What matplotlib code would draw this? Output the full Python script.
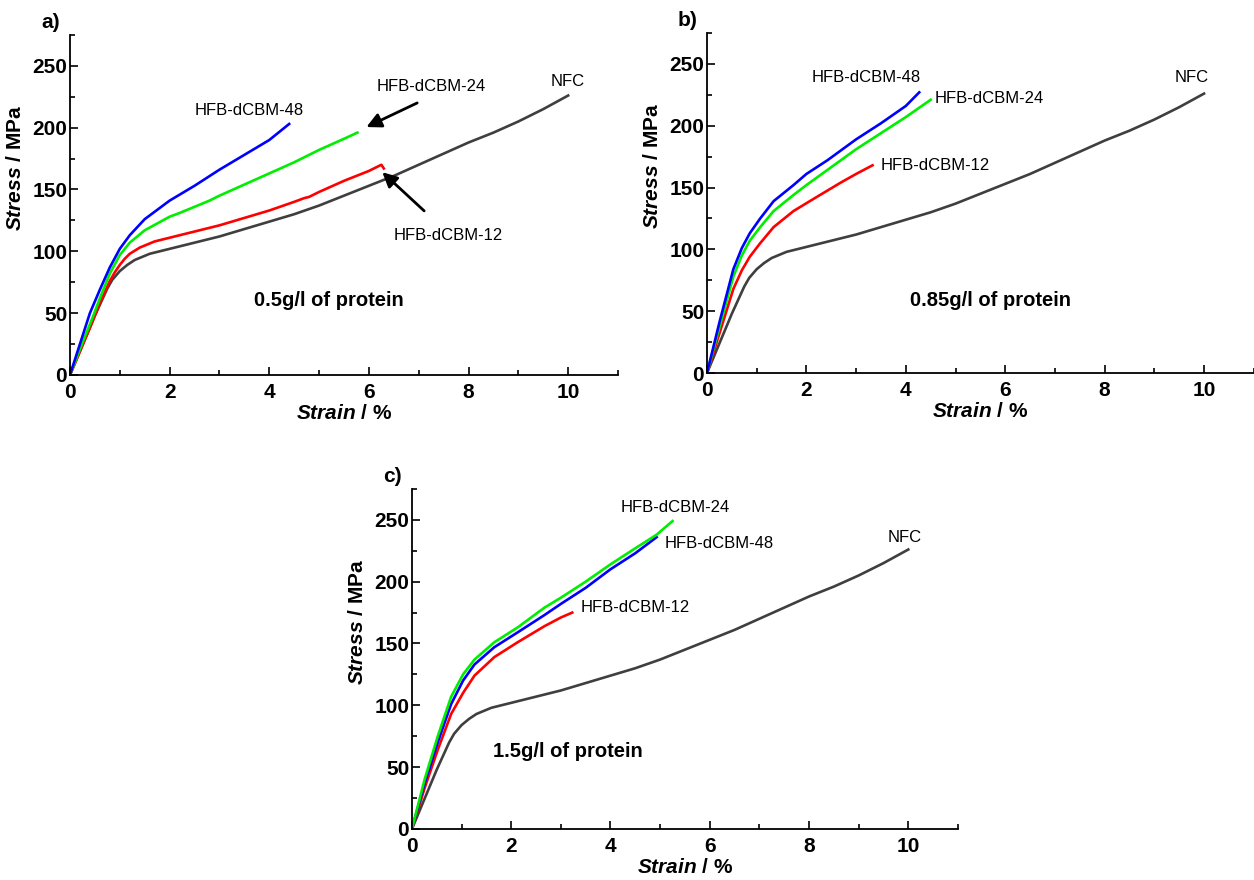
"""
Curvas tensão-deformação de filmes de NFC com HFB-dCBM
em três concentrações de proteína (painéis a, b, c).
"""
import matplotlib
matplotlib.use("Agg")
import matplotlib.pyplot as plt
from matplotlib.ticker import MultipleLocator

plt.rcParams['font.family'] = ['Liberation Sans', 'DejaVu Sans']
plt.rcParams['mathtext.fontset'] = 'custom'
plt.rcParams['mathtext.it'] = 'Liberation Sans:italic:bold'
plt.rcParams['mathtext.rm'] = 'Liberation Sans:bold'

# Curva de referência NFC (igual nos três painéis)
nfc_strain = [0, 0.25, 0.5, 0.75, 0.85, 1.0, 1.15, 1.3, 1.6, 2.0, 2.5, 3.0, 3.5, 4.0, 4.5,
              5.0, 5.5, 6.0, 6.5, 7.0, 7.5, 8.0, 8.5, 9.0, 9.5, 10.0]
nfc_stress = [0, 24, 48, 70, 77, 84, 89, 93, 98, 102, 107, 112, 118, 124, 130,
              137, 145, 153, 161, 170, 179, 188, 196, 205, 215, 226]

# a) 0.5 g/l
a48_strain = [0, 0.2, 0.4, 0.6, 0.8, 1.0, 1.2, 1.5, 1.8, 2.0, 2.5, 3.0, 3.5, 4.0, 4.4]
a48_stress = [0, 25, 50, 69, 87, 102, 113, 126, 135, 141, 153, 166, 178, 190, 203]
a24_strain = [0, 0.2, 0.45, 0.6, 0.8, 1.0, 1.2, 1.5, 2.0, 2.2, 2.5, 2.8, 3.0, 3.5, 4.0, 4.5, 5.0, 5.5, 5.77]
a24_stress = [0, 21, 46, 62, 82, 97, 107, 117, 128, 131, 136, 141, 145, 154, 163, 172, 182, 191, 196]
a12_strain = [0, 0.2, 0.4, 0.6, 0.8, 0.9, 1.0, 1.1, 1.2, 1.4, 1.7, 2.0, 2.3, 2.6, 3.0, 3.5, 4.0,
              4.5, 4.7, 4.8, 5.0, 5.5, 6.0, 6.25, 6.3]
a12_stress = [0, 19, 38, 58, 76, 83, 89, 94, 98, 103, 108, 111, 114, 117, 121, 127, 133,
              140, 143, 144, 148, 157, 165, 170, 167]

# b) 0.85 g/l
b48_strain = [0, 0.25, 0.53, 0.7, 0.86, 1.07, 1.34, 1.74, 2.0, 2.42, 3.0, 3.5, 4.0, 4.27]
b48_stress = [0, 41, 84, 101, 113, 125, 139, 152, 161, 172, 189, 202, 216, 227]
b24_strain = [0, 0.25, 0.53, 0.7, 0.86, 1.07, 1.34, 1.74, 2.0, 2.69, 3.0, 3.5, 4.0, 4.5]
b24_stress = [0, 37, 78, 95, 107, 118, 131, 144, 152, 172, 181, 194, 207, 221]
b12_strain = [0, 0.25, 0.53, 0.7, 0.86, 1.07, 1.34, 1.74, 2.15, 2.69, 3.0, 3.33]
b12_stress = [0, 32, 68, 83, 94, 105, 118, 131, 141, 154, 161, 168]

# c) 1.5 g/l
c24_strain = [0, 0.255, 0.52, 0.79, 1.03, 1.26, 1.66, 2.13, 2.67, 3.0, 3.5, 4.0, 4.5, 4.93, 5.25]
c24_stress = [0, 40, 75, 107, 125, 137, 151, 163, 179, 187, 200, 214, 227, 238, 249]
c48_strain = [0, 0.255, 0.52, 0.79, 1.03, 1.26, 1.66, 2.13, 2.67, 3.0, 3.5, 4.0, 4.5, 4.93]
c48_stress = [0, 37, 70, 101, 120, 133, 147, 159, 173, 182, 195, 210, 223, 236]
c12_strain = [0, 0.255, 0.52, 0.79, 1.03, 1.26, 1.66, 2.13, 2.67, 3.0, 3.23]
c12_stress = [0, 33, 64, 93, 110, 124, 139, 151, 164, 171, 175]

COR_NFC = '#3f3f3f'
COR_12 = '#ff0000'
COR_24 = '#00ee00'
COR_48 = '#0000ff'
LW = 1.9


def preparar_eixo(ax, letra, titulo, pos_titulo):
    """Configura eixos, ticks e rótulos no estilo do Origin."""
    ax.set_xlim(0, 11)
    ax.set_ylim(0, 275)
    for lado in ('top', 'right'):
        ax.spines[lado].set_visible(False)
    for lado in ('left', 'bottom'):
        ax.spines[lado].set_linewidth(1.3)
    ax.xaxis.set_major_locator(MultipleLocator(2))
    ax.xaxis.set_minor_locator(MultipleLocator(1))
    ax.yaxis.set_major_locator(MultipleLocator(50))
    ax.yaxis.set_minor_locator(MultipleLocator(25))
    ax.tick_params(which='both', direction='in', width=1.2)
    ax.tick_params(which='major', length=6, labelsize=15)
    ax.tick_params(which='minor', length=3.5)
    ax.tick_params(axis='y', pad=2)
    ax.tick_params(axis='x', pad=6)
    for lab in ax.get_xticklabels() + ax.get_yticklabels():
        lab.set_fontweight('bold')

    ax.set_ylabel(r'$\mathit{Stress}$ / MPa', fontsize=15, fontweight='bold')
    ax.yaxis.set_label_coords(-0.082, 0.61)
    ax.set_xlabel(r'$\mathit{Strain}$ / %', fontsize=15, fontweight='bold', labelpad=1)

    ax.text(-0.036, 1.038, letra, transform=ax.transAxes, fontsize=15,
            fontweight='bold', ha='center', va='center')
    ax.text(pos_titulo[0], pos_titulo[1], titulo, fontsize=14.5,
            fontweight='bold', ha='center', va='center')


fig = plt.figure(figsize=(12.54, 8.8), dpi=100)

# Painel a
ax_a = fig.add_axes([0.0558, 0.5739, 0.437, 0.3864])
ax_a.plot(nfc_strain, nfc_stress, color=COR_NFC, lw=LW)
ax_a.plot(a12_strain, a12_stress, color=COR_12, lw=LW)
ax_a.plot(a24_strain, a24_stress, color=COR_24, lw=LW)
ax_a.plot(a48_strain, a48_stress, color=COR_48, lw=LW)
preparar_eixo(ax_a, 'a)', '0.5g/l of protein', (5.2, 60))
ax_a.text(3.6, 214, 'HFB-dCBM-48', fontsize=12, ha='center', va='center')
ax_a.text(10.0, 237, 'NFC', fontsize=12, ha='center', va='center')
seta = dict(arrowstyle='-|>', color='k', lw=2, mutation_scale=22, shrinkA=0, shrinkB=0)
ax_a.annotate('', xy=(5.95, 200.5), xytext=(6.97, 220), arrowprops=seta)
ax_a.text(7.25, 233, 'HFB-dCBM-24', fontsize=12, ha='center', va='center')
ax_a.annotate('', xy=(6.27, 164), xytext=(7.11, 132.7), arrowprops=seta)
ax_a.text(7.6, 112.5, 'HFB-dCBM-12', fontsize=12, ha='center', va='center')

# Painel b
ax_b = fig.add_axes([0.5638, 0.5761, 0.436, 0.3864])
ax_b.plot(nfc_strain, nfc_stress, color=COR_NFC, lw=LW)
ax_b.plot(b12_strain, b12_stress, color=COR_12, lw=LW)
ax_b.plot(b24_strain, b24_stress, color=COR_24, lw=LW)
ax_b.plot(b48_strain, b48_stress, color=COR_48, lw=LW)
preparar_eixo(ax_b, 'b)', '0.85g/l of protein', (5.7, 59))
ax_b.text(3.2, 238.7, 'HFB-dCBM-48', fontsize=12, ha='center', va='center')
ax_b.text(4.57, 221.7, 'HFB-dCBM-24', fontsize=12, ha='left', va='center')
ax_b.text(3.5, 168, 'HFB-dCBM-12', fontsize=12, ha='left', va='center')
ax_b.text(9.75, 239, 'NFC', fontsize=12, ha='center', va='center')

# Painel c
ax_c = fig.add_axes([0.3285, 0.058, 0.4354, 0.3864])
ax_c.plot(nfc_strain, nfc_stress, color=COR_NFC, lw=LW)
ax_c.plot(c12_strain, c12_stress, color=COR_12, lw=LW)
ax_c.plot(c48_strain, c48_stress, color=COR_48, lw=LW)
ax_c.plot(c24_strain, c24_stress, color=COR_24, lw=LW)
preparar_eixo(ax_c, 'c)', '1.5g/l of protein', (3.15, 63))
ax_c.text(5.3, 259.7, 'HFB-dCBM-24', fontsize=12, ha='center', va='center')
ax_c.text(5.1, 231, 'HFB-dCBM-48', fontsize=12, ha='left', va='center')
ax_c.text(3.39, 179, 'HFB-dCBM-12', fontsize=12, ha='left', va='center')
ax_c.text(9.93, 236, 'NFC', fontsize=12, ha='center', va='center')

fig.savefig('out.png', dpi=100)
